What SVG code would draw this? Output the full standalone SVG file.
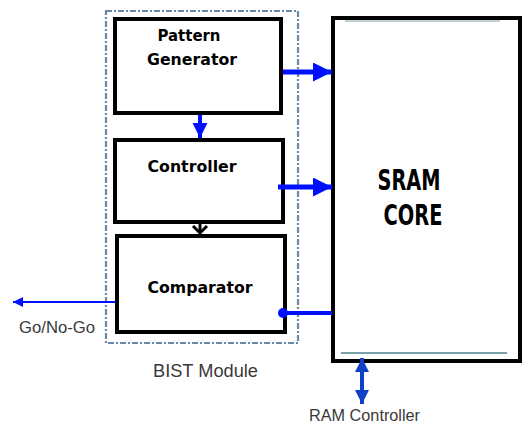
<svg xmlns="http://www.w3.org/2000/svg" width="523" height="428" viewBox="0 0 523 428">
<style>
.box{fill:#fff;stroke:#000;stroke-width:4}
.lbl{font-family:"DejaVu Sans","Liberation Sans",sans-serif;font-weight:bold;fill:#000}
.cap{font-family:"Liberation Sans",Arial,sans-serif;fill:#3a3a3a}
.blue{stroke:#0010ff;fill:none}
</style>
<defs>
<marker id="ah" viewBox="0 0 10 10" refX="10" refY="5" markerWidth="3.8" markerHeight="3.8" markerUnits="strokeWidth" orient="auto">
<path d="M0,0 L10,5 L0,10 Z" fill="#0010ff"/>
</marker>
<marker id="ahs" viewBox="0 0 10 10" refX="10" refY="5" markerWidth="5" markerHeight="5" markerUnits="strokeWidth" orient="auto">
<path d="M0,0 L10,5 L0,10 Z" fill="#0010ff"/>
</marker>
<marker id="ahd" viewBox="0 0 10 10" refX="10" refY="5" markerWidth="3.5" markerHeight="3.5" markerUnits="strokeWidth" orient="auto-start-reverse">
<path d="M0,0 L10,5 L0,10 Z" fill="#1040c8"/>
</marker>
</defs>
<rect width="523" height="428" fill="#fff"/>
<g id="bist">
<rect x="106" y="11" width="192" height="332" fill="none" stroke="#6a88a8" stroke-width="2.2" stroke-dasharray="6,2,2,2"/>
<text class="cap" x="153" y="377" font-size="18" textLength="105" lengthAdjust="spacingAndGlyphs">BIST Module</text>
</g>
<g id="pattern-generator">
<rect class="box" x="115" y="19" width="166" height="94"/>
<text class="lbl" x="189" y="41" text-anchor="middle" font-size="15" textLength="63" lengthAdjust="spacingAndGlyphs">Pattern</text>
<text class="lbl" x="192" y="65" text-anchor="middle" font-size="15" textLength="90" lengthAdjust="spacingAndGlyphs">Generator</text>
</g>
<g id="controller">
<rect class="box" x="115" y="140" width="168" height="82"/>
<text class="lbl" x="192" y="172" text-anchor="middle" font-size="15" textLength="89" lengthAdjust="spacingAndGlyphs">Controller</text>
</g>
<g id="comparator">
<rect class="box" x="117" y="236" width="168" height="96"/>
<text class="lbl" x="200" y="293" text-anchor="middle" font-size="15" textLength="105" lengthAdjust="spacingAndGlyphs">Comparator</text>
</g>
<g id="sram-core">
<rect class="box" x="333" y="18" width="187" height="343"/>
<line x1="341" y1="353" x2="507" y2="353" stroke="#7aa0a8" stroke-width="2"/>
<line x1="345" y1="21" x2="500" y2="21" stroke="#7aa0a8" stroke-width="1"/>
<text class="lbl" x="409" y="190" text-anchor="middle" font-size="28" textLength="63" lengthAdjust="spacingAndGlyphs">SRAM</text>
<text class="lbl" x="413" y="225" text-anchor="middle" font-size="28" textLength="59" lengthAdjust="spacingAndGlyphs">CORE</text>
</g>
<g id="labels">
<text class="cap" x="19" y="333" font-size="16" textLength="76" lengthAdjust="spacingAndGlyphs">Go/No-Go</text>
<text class="cap" x="309" y="421" font-size="17" textLength="111" lengthAdjust="spacingAndGlyphs">RAM Controller</text>
</g>
<g id="connectors">
<line class="blue" x1="283" y1="72" x2="332" y2="72" stroke-width="5" marker-end="url(#ah)"/>
<line class="blue" x1="278" y1="187" x2="332" y2="187" stroke-width="5" marker-end="url(#ah)"/>
<line class="blue" x1="200" y1="115" x2="200" y2="138" stroke-width="4" marker-end="url(#ah)"/>
<path d="M200,223 L200,233 M193,226 L200,233 L207,226" stroke="#000" stroke-width="3" fill="none"/>
<line class="blue" x1="115" y1="302" x2="13" y2="302" stroke-width="2" marker-end="url(#ahs)"/>
<line class="blue" x1="284" y1="313" x2="332" y2="313" stroke-width="4"/>
<circle cx="283" cy="313" r="5" fill="#0010ff"/>
<line x1="362" y1="358" x2="362" y2="404" stroke="#1040c8" stroke-width="4" marker-start="url(#ahd)" marker-end="url(#ahd)"/>
</g>
</svg>
